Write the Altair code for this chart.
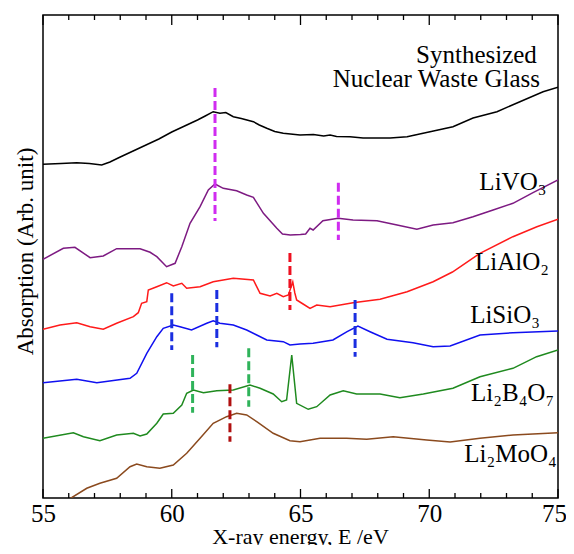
import altair as alt
import pandas as pd

# ---- spectra: energy (eV) and absorption (arb., offset) ----
glass_E = [55.0, 55.7, 56.31, 56.8, 57.28, 57.6, 58.0, 58.5, 59.0, 59.5, 60.0, 60.5, 61.0, 61.3, 61.61,
           61.87, 62.1, 62.39, 62.7, 63.17, 63.4, 63.69, 64.0, 64.33, 64.98, 65.5, 65.9, 66.15, 66.4,
           66.92, 67.43, 68.48, 69.14, 70.03, 70.92, 71.70, 72.63, 73.52, 74.42, 75.0]
glass_A = [333.7, 334.5, 335.3, 334.5, 333.0, 336.0, 341.0, 347.0, 353.0, 359.0, 366.0, 372.0, 378.0, 382.0, 386.3,
           384.7, 385.5, 381.3, 379.5, 376.3, 373.0, 369.7, 366.5, 364.7, 363.0, 363.5, 362.0, 363.0, 361.5,
           361.3, 360.0, 360.0, 361.3, 366.3, 371.3, 380.0, 386.3, 396.3, 406.3, 410.7]

livo_E = [55.0, 55.79, 56.24, 56.83, 57.34, 57.86, 58.77, 59.16, 59.42, 59.80, 60.13, 60.39, 60.71, 61.10,
          61.42, 61.68, 62.00, 62.52, 62.91, 63.17, 63.56, 64.08, 64.3, 64.6, 65.0, 65.2, 65.37, 65.49,
          65.87, 66.46, 67.04, 67.97, 68.75, 69.52, 70.15, 70.92, 71.70, 72.48, 73.25, 74.03, 75.0]
livo_A = [238.7, 249.7, 250.7, 240.3, 242.0, 249.3, 249.3, 245.7, 241.3, 231.3, 234.7, 251.3, 274.7, 291.3,
          308.0, 314.0, 309.7, 307.3, 303.0, 300.7, 284.7, 269.7, 264.0, 263.0, 263.5, 264.0, 269.7, 268.0,
          277.3, 279.7, 278.0, 277.3, 273.0, 268.7, 273.0, 275.3, 281.3, 288.0, 294.7, 305.3, 318.0]

lialo_E = [55.0, 55.66, 56.31, 56.83, 57.34, 57.86, 58.51, 58.70, 58.83, 59.03, 59.09, 59.42, 59.80, 60.06,
           60.39, 60.58, 61.10, 61.61, 62.39, 63.17, 63.43, 63.82, 64.08, 64.33, 64.53, 64.62, 64.70, 64.78,
           64.85, 65.1, 65.37, 65.63, 66.15, 67.04, 68.09, 69.14, 70.15, 70.9, 71.97, 73.25, 74.18, 75.0]
lialo_A = [168.7, 173.0, 175.3, 171.3, 168.7, 174.7, 181.3, 185.3, 194.7, 196.3, 208.0, 211.3, 215.3, 212.0,
           214.7, 209.7, 211.3, 216.3, 219.7, 218.0, 204.7, 202.0, 204.7, 201.3, 203.0, 210.0, 216.0, 205.0,
           198.0, 194.0, 189.7, 193.0, 191.3, 195.3, 198.7, 206.3, 216.3, 226.0, 244.7, 261.3, 271.3, 278.7]

lisio_E = [55.0, 56.31, 57.09, 58.38, 58.64, 59.03, 59.42, 59.67, 60.06, 60.32, 60.77, 61.36, 61.61, 61.87,
           62.39, 62.91, 63.30, 63.69, 64.33, 64.59, 64.98, 65.49, 66.26, 66.81, 67.23, 67.70, 68.36, 69.37,
           70.15, 70.81, 71.97, 73.25, 75.0]
lisio_A = [115.3, 118.7, 115.3, 119.7, 124.7, 144.7, 161.3, 169.7, 173.0, 171.3, 168.0, 174.7, 177.3, 174.7,
           173.0, 168.0, 163.0, 158.0, 156.3, 153.0, 154.0, 154.7, 158.0, 166.3, 172.0, 166.3, 158.7, 155.3,
           151.3, 152.0, 163.0, 165.3, 167.0]

libo_E = [55.0, 56.18, 56.57, 57.21, 57.86, 58.51, 58.77, 59.03, 59.42, 59.67, 60.06, 60.39, 60.58, 60.84,
          61.23, 61.75, 62.39, 63.04, 63.43, 63.94, 64.27, 64.46, 64.58, 64.66, 64.75, 64.85, 65.30, 65.63,
          66.15, 66.66, 67.18, 68.09, 68.86, 69.77, 70.92, 71.97, 73.25, 74.17, 75.0]
libo_A = [59.7, 65.3, 61.3, 57.3, 63.0, 64.7, 62.0, 64.0, 74.7, 84.0, 84.7, 93.0, 104.7, 108.0,
          105.3, 107.3, 108.0, 113.0, 109.7, 104.0, 96.3, 98.0, 125.0, 143.0, 120.0, 94.7, 88.7, 91.3,
          103.0, 107.3, 104.0, 104.0, 100.3, 104.0, 109.7, 121.3, 129.7, 141.3, 148.0]

limo_E = [55.0, 56.11, 56.70, 57.21, 57.86, 58.38, 58.64, 59.03, 59.54, 60.06, 60.58, 61.10, 61.61, 62.13,
          62.52, 62.91, 63.30, 63.94, 64.59, 64.98, 65.76, 66.79, 67.57, 68.60, 69.90, 70.81, 71.97, 73.25, 75.0]
limo_A = [-18.0, 0.3, 9.7, 14.7, 19.7, 31.3, 34.0, 31.3, 29.7, 33.0, 44.7, 59.7, 74.7, 81.3,
          84.7, 83.0, 76.3, 64.7, 57.3, 56.3, 59.7, 59.7, 58.7, 61.3, 58.0, 56.0, 59.7, 63.0, 65.3]

series_names = ["glass", "LiVO3", "LiAlO2", "LiSiO3", "Li2B4O7", "Li2MoO4"]
series_colors = ["#000000", "#7d1a82", "#ff1a1a", "#1010f0", "#1f8a1f", "#8b4a1e"]

# ---- dashed peak markers ----
mark_E = [61.68, 66.47, 64.59, 60.0, 61.75, 67.12, 60.81, 62.99, 62.26]
mark_top = [410.0, 315.3, 245.0, 204.7, 208.0, 198.0, 143.0, 149.7, 113.7]
mark_bot = [277.0, 258.0, 188.0, 148.0, 150.7, 141.3, 85.3, 91.3, 56.3]
mark_grp = ["m", "m", "r", "b", "b", "b", "g", "g", "d"]
mark_names = ["m", "r", "b", "g", "d"]
mark_colors = ["#d02cf0", "#ee1020", "#1a2ee0", "#2fb35a", "#b01010"]

# ---- curve labels ----
lab_text = ["Synthesized", "Nuclear Waste Glass", "LiVO\u2083", "LiAlO\u2082", "LiSiO\u2083",
            "Li\u2082B\u2084O\u2087", "Li\u2082MoO\u2084"]
lab_E = [74.18, 74.30, 74.55, 74.65, 74.30, 74.85, 74.95]
lab_A = [435.0, 411.0, 308.0, 228.0, 175.0, 97.0, 36.0]

major_ticks = [55, 60, 65, 70, 75]
minor_ticks = [56, 57, 58, 59, 61, 62, 63, 64, 66, 67, 68, 69, 71, 72, 73, 74]

rows = []
for name, E, A in [("glass", glass_E, glass_A), ("LiVO3", livo_E, livo_A), ("LiAlO2", lialo_E, lialo_A),
                   ("LiSiO3", lisio_E, lisio_A), ("Li2B4O7", libo_E, libo_A), ("Li2MoO4", limo_E, limo_A)]:
    for i, (e, a) in enumerate(zip(E, A)):
        rows.append({"series": name, "E": e, "A": a, "order": i})
df = pd.DataFrame(rows)

marks_df = pd.DataFrame({"E": mark_E, "top": mark_top, "bot": mark_bot, "grp": mark_grp})
labels_df = pd.DataFrame({"text": lab_text, "E": lab_E, "A": lab_A})

FONT = "Liberation Serif"
W, H = 515, 483
YMAX = 483
MAJOR_LEN, MINOR_LEN = 9, 5

# inward tick marks on the bottom and top frame edges (tick values from the lists above)
tick_rows = []
for v in major_ticks:
    tick_rows.append({"E": v, "lo": 0, "hi": MAJOR_LEN})
    tick_rows.append({"E": v, "lo": YMAX - MAJOR_LEN - 1, "hi": YMAX})
for v in minor_ticks:
    tick_rows.append({"E": v, "lo": 0, "hi": MINOR_LEN})
    tick_rows.append({"E": v, "lo": YMAX - MINOR_LEN, "hi": YMAX})
ticks_df = pd.DataFrame(tick_rows)

xs = alt.Scale(domain=[55, 75], nice=False, zero=False)
ys = alt.Scale(domain=[0, YMAX], nice=False, zero=False)

lines = alt.Chart(df).mark_line(strokeWidth=1.5, clip=True).encode(
    x=alt.X("E:Q", scale=xs, axis=alt.Axis(orient="bottom", values=major_ticks, ticks=False,
                                         domain=False, grid=False, labelPadding=3, labelFlush=False,
                                         labelFont=FONT, labelFontSize=25, labelColor="black",
                                         labelOffset={"condition": {"test": "datum.value == 75", "value": -4},
                                                      "value": 0},
                                         title="X-ray energy, E /eV", titleFont=FONT, titleFontSize=22,
                                         titleFontWeight="normal", titleColor="black",
                                         titleX=257, titleY=45, titleBaseline="alphabetic")),
    y=alt.Y("A:Q", scale=ys, axis=alt.Axis(labels=False, ticks=False, domain=False, grid=False,
                                         title="Absorption (Arb. unit)", titleFont=FONT, titleFontSize=23,
                                         titleFontWeight="normal", titleColor="black", titleX=-18,
                                         titleY=236, titleBaseline="middle", titleAlign="center")),
    color=alt.Color("series:N", scale=alt.Scale(domain=series_names, range=series_colors), legend=None),
    order="order:Q",
)

dashes = alt.Chart(marks_df).mark_rule(strokeWidth=3, strokeDash=[9, 4]).encode(
    x=alt.X("E:Q", scale=xs),
    y=alt.Y("top:Q", scale=ys),
    y2="bot:Q",
    color=alt.Color("grp:N", scale=alt.Scale(domain=mark_names, range=mark_colors), legend=None),
)

labels = alt.Chart(labels_df).mark_text(font=FONT, fontSize=25, align="right", baseline="alphabetic",
                                        color="black").encode(
    x=alt.X("E:Q", scale=xs),
    y=alt.Y("A:Q", scale=ys),
    text="text:N",
)

tick_marks = alt.Chart(ticks_df).mark_rule(color="black", strokeWidth=1.3).encode(
    x=alt.X("E:Q", scale=xs),
    y=alt.Y("lo:Q", scale=ys),
    y2="hi:Q",
)

chart = alt.layer(
    lines, dashes, labels, tick_marks,
).resolve_scale(color="independent").properties(
    width=W, height=H, background="white",
    autosize=alt.AutoSizeParams(type="none"),
    padding={"left": 35, "top": 7, "right": 8, "bottom": 47},
).configure_view(stroke="black", strokeWidth=1.5)

chart.save("out.html", embed_options={"renderer": "svg", "actions": False})
